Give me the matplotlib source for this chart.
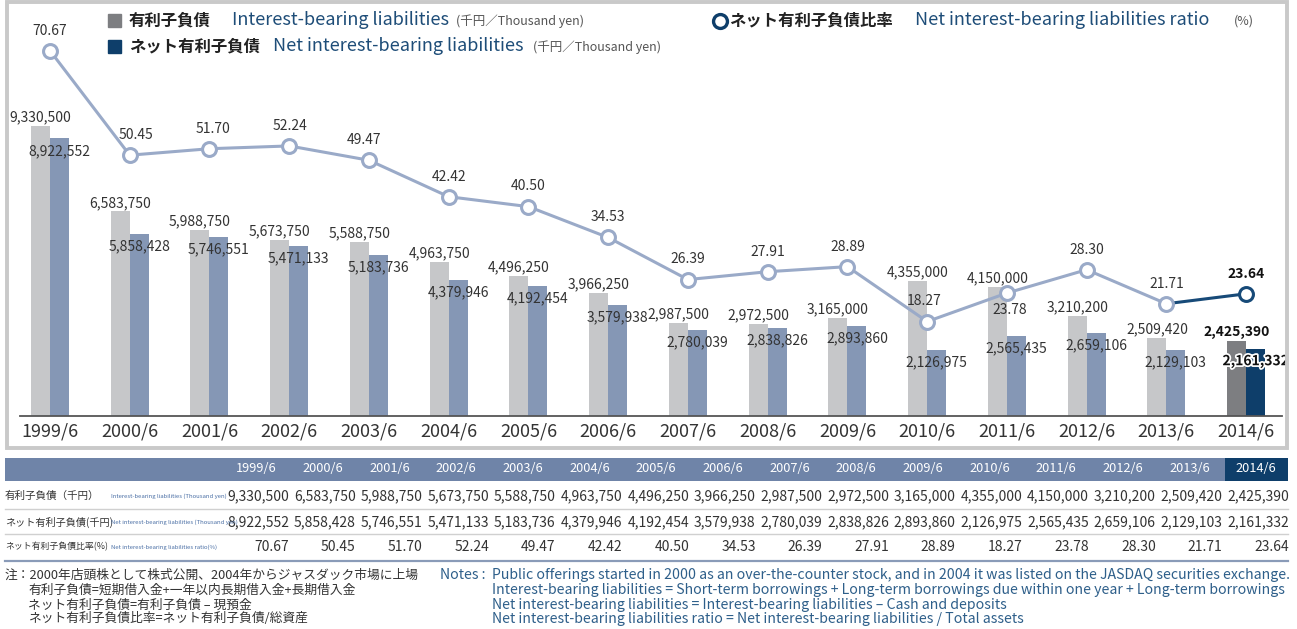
import numpy as np
import matplotlib
matplotlib.use("Agg")
import matplotlib.pyplot as plt
import matplotlib.patheffects as pe
from matplotlib.patches import Rectangle
from matplotlib.lines import Line2D

plt.rcParams['font.family'] = ['Noto Sans CJK JP', 'DejaVu Sans']

years = ['1999/6', '2000/6', '2001/6', '2002/6', '2003/6', '2004/6', '2005/6', '2006/6',
         '2007/6', '2008/6', '2009/6', '2010/6', '2011/6', '2012/6', '2013/6', '2014/6']
debt = [9330500, 6583750, 5988750, 5673750, 5588750, 4963750, 4496250, 3966250,
        2987500, 2972500, 3165000, 4355000, 4150000, 3210200, 2509420, 2425390]
net_debt = [8922552, 5858428, 5746551, 5471133, 5183736, 4379946, 4192454, 3579938,
            2780039, 2838826, 2893860, 2126975, 2565435, 2659106, 2129103, 2161332]
ratio = [70.67, 50.45, 51.70, 52.24, 49.47, 42.42, 40.50, 34.53,
         26.39, 27.91, 28.89, 18.27, 23.78, 28.30, 21.71, 23.64]

row_labels_jp = ['有利子負債（千円）', 'ネット有利子負債(千円)', 'ネット有利子負債比率(%)']
row_labels_en = ['Interest-bearing liabilities (Thousand yen)',
                 'Net interest-bearing liabilities (Thousand yen)',
                 'Net interest-bearing liabilities ratio(%)']
notes_jp = ['注：2000年店頭株として株式公開、2004年からジャスダック市場に上場',
            '有利子負債=短期借入金+一年以内長期借入金+長期借入金',
            'ネット有利子負債=有利子負債 – 現預金',
            'ネット有利子負債比率=ネット有利子負債/総資産']
notes_en = ['Public offerings started in 2000 as an over-the-counter stock, and in 2004 it was listed on the JASDAQ securities exchange.',
            'Interest-bearing liabilities = Short-term borrowings + Long-term borrowings due within one year + Long-term borrowings',
            'Net interest-bearing liabilities = Interest-bearing liabilities – Cash and deposits',
            'Net interest-bearing liabilities ratio = Net interest-bearing liabilities / Total assets']

GRAY, GRAY_HI = '#c6c7c9', '#7d7e81'
SLATE, NAVY = '#8597b5', '#0e3e6a'
LINE, LINE_HI = '#9aaac8', '#174a78'
TXT, BLUE_TXT = '#333333', '#1e4d78'

W, H = 1297, 629
fig = plt.figure(figsize=(W / 100, H / 100), dpi=100)


def px(x, y):
    return x / W, 1 - y / H


def ftext(x, y, s, **kw):
    kw.setdefault('va', 'center')
    kw.setdefault('color', TXT)
    fig.text(*px(x, y), s, **kw)


# outer frame of chart
fig.add_artist(Rectangle(px(7, 448), 1280 / W, 446 / H, fill=False, ec='#c9c9c9', lw=2.8))

ax = fig.add_axes([20 / W, 1 - 416 / H, 1262 / W, 396 / H])
n = len(years)
x = np.arange(n)
bw = 0.238
ax.bar(x - bw / 2, debt, bw, color=[GRAY] * (n - 1) + [GRAY_HI], zorder=2)
ax.bar(x + bw / 2, net_debt, bw, color=[SLATE] * (n - 1) + [NAVY], zorder=2)
ax.set_xlim(-0.376, 15.45)
ax.set_ylim(0, 12.73e6)
ax.set_xticks(x, years, fontsize=13, color=TXT)
ax.tick_params(axis='x', length=0, pad=5)
ax.set_yticks([])
for s in ['top', 'left', 'right']:
    ax.spines[s].set_visible(False)
ax.spines['bottom'].set_color('#555555')
ax.spines['bottom'].set_linewidth(1.3)
ax.patch.set_visible(False)

for i in range(n):
    last = i == n - 1
    kw = dict(fontsize=10, color='#111111' if last else TXT,
              fontweight='bold' if last else 'normal', ha='center', zorder=5)
    ax.annotate(f'{debt[i]:,}', (x[i] - bw / 2, debt[i]), xytext=(0, 1),
                textcoords='offset points', va='bottom', **kw)
    t = ax.annotate(f'{net_debt[i]:,}', (x[i] + bw / 2, net_debt[i]), xytext=(0, -9),
                    textcoords='offset points', va='center', **kw)
    if last:
        t.set_path_effects([pe.withStroke(linewidth=2.5, foreground='white')])

ax2 = ax.twinx()
ax2.set_ylim(0, 76.6)
ax2.set_yticks([])
for s in ax2.spines.values():
    s.set_visible(False)
ax2.plot(x[:-1], ratio[:-1], color=LINE, lw=2.2, marker='o', ms=10, mfc='white',
         mec=LINE, mew=2.2, zorder=3)
ax2.plot(x[-2:], ratio[-2:], color=LINE_HI, lw=2.2, zorder=2)
ax2.plot(x[-1:], ratio[-1:], ls='none', marker='o', ms=10, mfc='white',
         mec=LINE_HI, mew=2.2, zorder=4)

label_dx = {1: 6, 2: 4, 3: 1, 4: -5, 11: -3, 12: 3}
for i in range(n):
    dy = -12 if i == 12 else 14.5
    last = i == n - 1
    ax2.annotate(f'{ratio[i]:.2f}', (x[i], ratio[i]),
                 xytext=(label_dx.get(i, 0) * 0.72, dy), textcoords='offset points',
                 ha='center', va='center', fontsize=10,
                 color='#111111' if last else TXT, fontweight='bold' if last else 'normal')

# header legend
fig.add_artist(Rectangle(px(108, 27), 13 / W, 13 / H, color=GRAY_HI))
fig.add_artist(Rectangle(px(108, 53), 13 / W, 13 / H, color=NAVY))
ftext(129, 20, '有利子負債', fontsize=11.8, fontweight='bold', color='#222222')
ftext(232, 20, 'Interest-bearing liabilities', fontsize=13, color=BLUE_TXT)
ftext(456, 21, '(千円／Thousand yen)', fontsize=9, color='#555555')
ftext(129, 46, 'ネット有利子負債', fontsize=11.8, fontweight='bold', color='#222222')
ftext(273, 46, 'Net interest-bearing liabilities', fontsize=13, color=BLUE_TXT)
ftext(533, 47, '(千円／Thousand yen)', fontsize=9, color='#555555')
fig.add_artist(Line2D([720 / W], [1 - 21 / H], marker='o', ms=10, mfc='white',
                      mec=NAVY, mew=2.4, ls='none'))
ftext(729, 20, 'ネット有利子負債比率', fontsize=11.8, fontweight='bold', color='#222222')
ftext(915, 20, 'Net interest-bearing liabilities ratio', fontsize=13, color=BLUE_TXT)
ftext(1234, 21, '(%)', fontsize=9, color='#555555')

# data table
fig.add_artist(Rectangle(px(5, 481), 1283 / W, 23 / H, color='#6f84a8', lw=0))
fig.add_artist(Rectangle(px(1225, 481), 63 / W, 23 / H, color=NAVY, lw=0))
rows_y = [496, 522, 547]
for yy, c, lw in [(509, '#d0d0d0', 1), (534, '#d0d0d0', 1), (561, '#8a9bb8', 1.6)]:
    fig.add_artist(Line2D([5 / W, 1288 / W], [1 - yy / H] * 2, color=c, lw=lw))
table_rows = [[f'{v:,}' for v in debt], [f'{v:,}' for v in net_debt],
              [f'{v:.2f}' for v in ratio]]
for i in range(n):
    right = 289 + i * 66.67
    ftext(right - 33, 469, years[i], fontsize=9.2, color='white', ha='center')
    for r in range(3):
        ftext(right, rows_y[r], table_rows[r][i], fontsize=10, ha='right')
for r, fs in zip(range(3), [7.6, 7.3, 6.4]):
    ftext(5, rows_y[r], row_labels_jp[r], fontsize=fs)
    ftext(111, rows_y[r], row_labels_en[r], fontsize=4.3, color='#4a6fa5')

# notes
ftext(5, 575, notes_jp[0], fontsize=9.2)
for k in range(1, 4):
    ftext(28, 575 + 15 * k - (1 if k == 3 else 0), notes_jp[k], fontsize=9.2)
ftext(440, 575, 'Notes :', fontsize=10.2, color='#2e5f8a')
for k in range(4):
    ftext(492, 575 + 15 * k - (1 if k == 3 else 0), notes_en[k], fontsize=10.2, color='#2e5f8a')

fig.savefig('out.png', dpi=100)
